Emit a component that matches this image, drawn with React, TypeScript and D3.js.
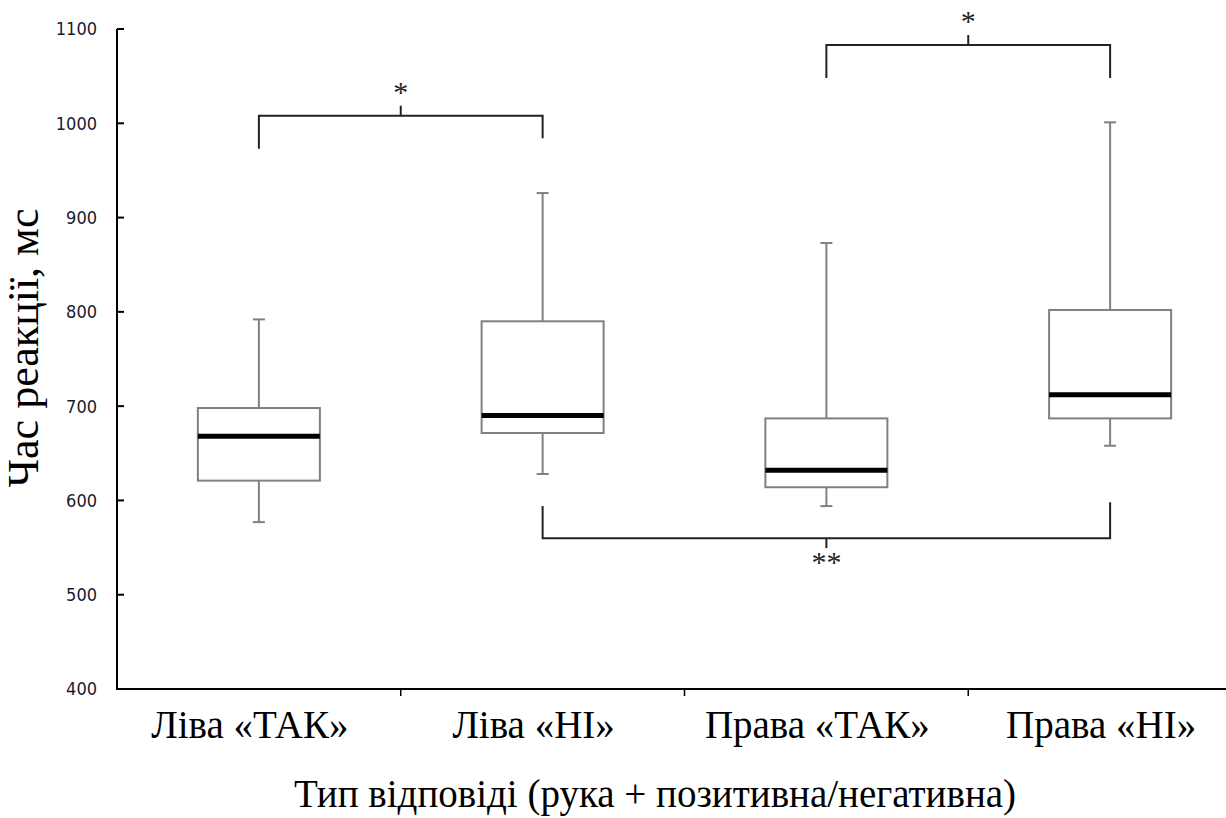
import React from "react";
import * as d3 from "d3";

// Reaction time box plots by response type
const categories = ["Ліва «ТАК»", "Ліва «НІ»", "Права «ТАК»", "Права «НІ»"];
const whiskerLow = [577, 628, 594, 658];
const quartile1 = [621, 671.5, 614, 687];
const medians = [668, 690, 632, 712];
const quartile3 = [698, 790, 687, 802];
const whiskerHigh = [792, 926, 873, 1001];

const yTicks = [400, 500, 600, 700, 800, 900, 1000, 1100];

// Significance brackets: category pair, bar level, leg end levels, marker
const bracketFrom = [0, 2, 1];
const bracketTo = [1, 3, 3];
const bracketLevel = [1008, 1083, 560];
const legEndFrom = [973, 1048, 594];
const legEndTo = [984, 1048, 598];
const bracketMarks = ["*", "*", "**"];

const yTitle = "Час реакції, мс";
const xTitle = "Тип відповіді (рука + позитивна/негативна)";

const W = 1226;
const H = 818;

export default function App() {
  const x = d3.scaleBand<string>().domain(categories).range([117, 1252]).padding(0);
  const y = d3.scaleLinear().domain([400, 1100]).range([689, 29]);
  const bw = x.bandwidth();
  const boxW = bw * 0.43;
  const capW = 12;
  const cx = (i: number) => (x(categories[i]) as number) + bw / 2;
  const boundaries = categories.slice(1).map((c) => x(c) as number);

  const serif = "'Liberation Serif', 'Times New Roman', serif";
  const sans = "Tahoma, 'DejaVu Sans Condensed', 'Liberation Sans', sans-serif";

  return (
    <div style={{ position: "fixed", left: 0, top: 0, background: "#fff" }}>
      <svg width={W} height={H} style={{ display: "block" }}>
        <rect width={W} height={H} fill="#fff" />

        {/* boxes */}
        {categories.map((c, i) => {
          const xc = cx(i);
          return (
            <g key={c} stroke="#808080" strokeWidth={2} fill="#fff">
              <line x1={xc} x2={xc} y1={y(whiskerHigh[i])} y2={y(quartile3[i])} />
              <line x1={xc} x2={xc} y1={y(quartile1[i])} y2={y(whiskerLow[i])} />
              <line x1={xc - capW / 2} x2={xc + capW / 2} y1={y(whiskerHigh[i])} y2={y(whiskerHigh[i])} />
              <line x1={xc - capW / 2} x2={xc + capW / 2} y1={y(whiskerLow[i])} y2={y(whiskerLow[i])} />
              <rect
                x={xc - boxW / 2}
                y={y(quartile3[i])}
                width={boxW}
                height={y(quartile1[i]) - y(quartile3[i])}
              />
              <line
                x1={xc - boxW / 2}
                x2={xc + boxW / 2}
                y1={y(medians[i])}
                y2={y(medians[i])}
                stroke="#000"
                strokeWidth={5}
              />
            </g>
          );
        })}

        {/* significance brackets */}
        {bracketFrom.map((a, k) => {
          const b = bracketTo[k];
          const x1 = cx(a);
          const x2 = cx(b);
          const ly = y(bracketLevel[k]);
          const mid = (x1 + x2) / 2;
          const above = legEndFrom[k] < bracketLevel[k];
          const tickEnd = above ? ly - 10 : ly + 10;
          const textY = above ? ly - 14 : ly + 34;
          return (
            <g key={k}>
              <path
                d={`M${x1},${y(legEndFrom[k])}V${ly}H${x2}V${y(legEndTo[k])}`}
                fill="none"
                stroke="#222"
                strokeWidth={2}
              />
              <line x1={mid} x2={mid} y1={ly} y2={tickEnd} stroke="#222" strokeWidth={2} />
              <text
                x={mid}
                y={textY}
                textAnchor="middle"
                fontFamily={serif}
                fontSize={30}
                fill="#222"
              >
                {bracketMarks[k]}
              </text>
            </g>
          );
        })}

        {/* y axis */}
        <line x1={117} x2={117} y1={y(1100)} y2={y(400)} stroke="#000" strokeWidth={2} />
        {yTicks.map((t) => (
          <g key={t}>
            <line x1={117} x2={124} y1={y(t)} y2={y(t)} stroke="#000" strokeWidth={2} />
            <text
              x={97}
              y={y(t)}
              dy="0.36em"
              textAnchor="end"
              fontFamily={sans}
              fontSize={18}
              fill="#1a1a2a"
            >
              {t}
            </text>
          </g>
        ))}

        {/* x axis */}
        <line x1={116} x2={1252} y1={y(400)} y2={y(400)} stroke="#000" strokeWidth={2} />
        {boundaries.map((bx, i) => (
          <line key={i} x1={bx} x2={bx} y1={y(400)} y2={y(400) + 7} stroke="#000" strokeWidth={1.5} />
        ))}
        {categories.map((c, i) => (
          <text
            key={c}
            x={cx(i) - 9}
            y={738}
            textAnchor="middle"
            fontFamily={serif}
            fontSize={39}
            fill="#000"
          >
            {c}
          </text>
        ))}

        {/* axis titles */}
        <text
          x={655}
          y={807}
          textAnchor="middle"
          fontFamily={serif}
          fontSize={39}
          fill="#000"
        >
          {xTitle}
        </text>
        <text
          transform={`translate(38,348) rotate(-90)`}
          textAnchor="middle"
          fontFamily={serif}
          fontSize={44}
          fill="#000"
        >
          {yTitle}
        </text>
      </svg>
    </div>
  );
}
